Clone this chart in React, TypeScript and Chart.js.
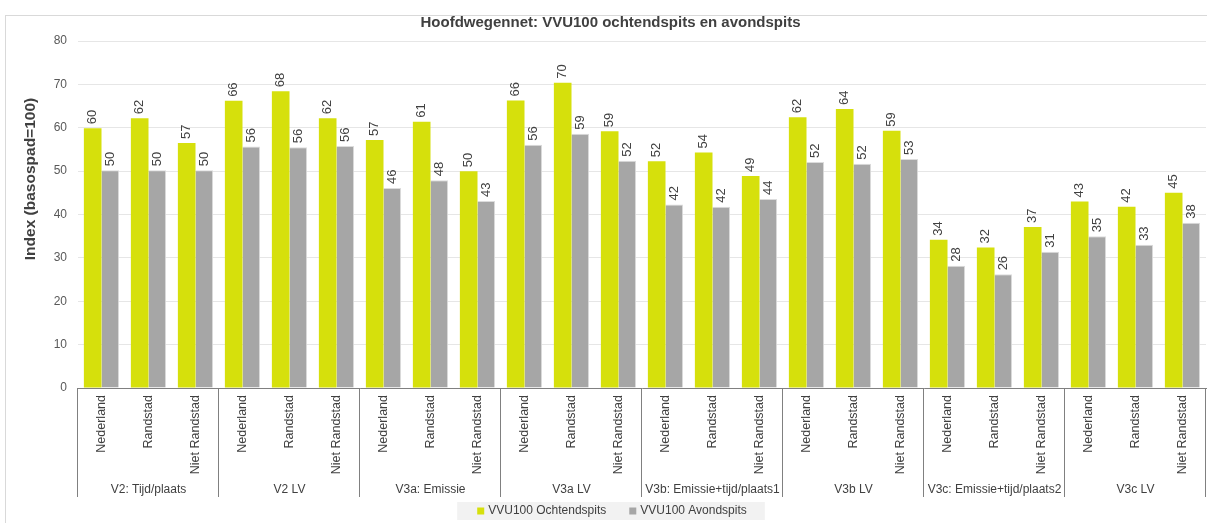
import React, { useEffect, useRef } from "react";
import { Chart, registerables } from "chart.js";

Chart.register(...registerables);

const FONT = "'Liberation Sans', Arial, sans-serif";

const TITLE = "Hoofdwegennet: VVU100 ochtendspits en avondspits";
const Y_TITLE = "Index (basospad=100)";

const GROUPS = [
  "V2: Tijd/plaats",
  "V2 LV",
  "V3a: Emissie",
  "V3a LV",
  "V3b: Emissie+tijd/plaats1",
  "V3b LV",
  "V3c: Emissie+tijd/plaats2",
  "V3c LV",
];
const REGIONS = ["Nederland", "Randstad", "Niet Randstad"];

const SERIES_NAMES = ["VVU100 Ochtendspits", "VVU100 Avondspits"];

const OCHTEND = [
  59.9, 62.2, 56.5,
  66.2, 68.4, 62.2,
  57.2, 61.4, 50.0,
  66.3, 70.4, 59.2,
  52.3, 54.3, 48.9,
  62.4, 64.3, 59.3,
  34.2, 32.4, 37.1,
  43.0, 41.8, 45.0,
];
const AVOND = [
  50.2, 50.2, 50.2,
  55.7, 55.5, 55.8,
  46.1, 47.9, 43.1,
  56.1, 58.6, 52.4,
  42.3, 41.8, 43.6,
  52.1, 51.7, 52.8,
  28.2, 26.2, 31.4,
  35.0, 33.0, 38.1,
];

const Y_MIN = 0;
const Y_MAX = 80;
const Y_STEP = 10;

const GREEN = "#d6e00c";
const GREY = "#a6a6a6";
const TEXT = "#404040";

const W = 1207;
const H = 523;

const decoPlugin = {
  id: "deco",
  beforeDraw(chart: any) {
    const ctx = chart.ctx;
    ctx.save();
    ctx.fillStyle = "#ffffff";
    ctx.fillRect(0, 0, chart.width, chart.height);
    ctx.strokeStyle = "#d9d9d9";
    ctx.lineWidth = 1;
    ctx.strokeRect(5.5, 15.5, chart.width + 20, chart.height + 20);
    ctx.restore();
  },
  afterDatasetsDraw(chart: any) {
    const ctx = chart.ctx;
    ctx.save();
    ctx.font = `13px ${FONT}`;
    ctx.fillStyle = TEXT;
    ctx.textAlign = "left";
    ctx.textBaseline = "middle";
    chart.data.datasets.forEach((ds: any, di: number) => {
      const meta = chart.getDatasetMeta(di);
      meta.data.forEach((bar: any, i: number) => {
        const v = ds.data[i];
        ctx.save();
        ctx.translate(bar.x, bar.y - 4);
        ctx.rotate(-Math.PI / 2);
        ctx.fillText(String(Math.round(v)), 0, 0);
        ctx.restore();
      });
    });
    ctx.restore();
  },
  afterDraw(chart: any) {
    const ctx = chart.ctx;
    const area = chart.chartArea;
    const xs = chart.scales.x;
    ctx.save();

    // category labels
    ctx.fillStyle = TEXT;
    ctx.font = `12.5px ${FONT}`;
    ctx.textAlign = "right";
    ctx.textBaseline = "middle";
    const n = chart.data.labels.length;
    for (let i = 0; i < n; i++) {
      const x = xs.getPixelForValue(i);
      ctx.save();
      ctx.translate(x, area.bottom + 7);
      ctx.rotate(-Math.PI / 2);
      ctx.fillText(REGIONS[i % REGIONS.length], 0, 0);
      ctx.restore();
    }

    // group separators and labels
    const gw = (area.right - area.left) / GROUPS.length;
    ctx.strokeStyle = "#808080";
    ctx.lineWidth = 1;
    for (let k = 0; k <= GROUPS.length; k++) {
      const x = Math.round(area.left + k * gw) - 0.5;
      ctx.beginPath();
      ctx.moveTo(x, area.bottom);
      ctx.lineTo(x, area.bottom + 109);
      ctx.stroke();
    }
    ctx.font = `12px ${FONT}`;
    ctx.textAlign = "center";
    GROUPS.forEach((g, k) => {
      ctx.fillText(g, area.left + (k + 0.5) * gw, area.bottom + 102);
    });

    // y title
    ctx.save();
    ctx.font = `bold 15.5px ${FONT}`;
    ctx.translate(31, 179);
    ctx.rotate(-Math.PI / 2);
    ctx.textAlign = "center";
    ctx.textBaseline = "middle";
    ctx.fillText(Y_TITLE, 0, 0);
    ctx.restore();

    // legend
    ctx.font = `12px ${FONT}`;
    const box = 7;
    const gapText = 4;
    const gapItem = 23;
    const items = chart.data.datasets.map((ds: any) => ({
      label: ds.label,
      color: ds.backgroundColor,
      w: box + gapText + ctx.measureText(ds.label).width,
    }));
    const total = items.reduce((s: number, it: any) => s + it.w, 0) + gapItem * (items.length - 1);
    let lx = 612 - total / 2;
    const ly = 511;
    ctx.fillStyle = "#f2f2f2";
    ctx.fillRect(lx - 20, 502, total + 38, 18);
    items.forEach((it: any) => {
      ctx.fillStyle = it.color;
      ctx.fillRect(lx, ly - 3.5, box, box);
      ctx.fillStyle = TEXT;
      ctx.textAlign = "left";
      ctx.textBaseline = "middle";
      ctx.fillText(it.label, lx + box + gapText, ly);
      lx += it.w + gapItem;
    });

    ctx.restore();
  },
};

export default function App() {
  const ref = useRef<HTMLCanvasElement>(null);

  useEffect(() => {
    const canvas = ref.current;
    if (!canvas) return;
    const labels = GROUPS.flatMap((g) => REGIONS.map((r) => [r, g]));
    const chart = new Chart(canvas, {
      type: "bar",
      data: {
        labels,
        datasets: [
          {
            label: SERIES_NAMES[0],
            data: OCHTEND,
            backgroundColor: GREEN,
            borderWidth: 0,
            categoryPercentage: 0.75,
            barPercentage: 1,
          },
          {
            label: SERIES_NAMES[1],
            data: AVOND,
            backgroundColor: GREY,
            borderColor: "#dcdcdc",
            borderWidth: { top: 1, right: 1, left: 0, bottom: 0 },
            categoryPercentage: 0.75,
            barPercentage: 1,
          },
        ],
      },
      options: {
        responsive: false,
        animation: false,
        layout: { padding: { left: 15, right: 1, top: 0, bottom: 0 } },
        plugins: {
          legend: { display: false },
          tooltip: { enabled: false },
          title: {
            display: true,
            text: TITLE,
            color: TEXT,
            font: { family: FONT, size: 15, weight: "bold" },
            padding: { top: 14, bottom: 9 },
          },
        },
        scales: {
          x: {
            grid: { display: false },
            border: { display: true, color: "#808080", width: 1 },
            ticks: { display: false },
            afterFit: (scale: any) => {
              scale.height = H - 388;
            },
          },
          y: {
            min: Y_MIN,
            max: Y_MAX,
            ticks: {
              stepSize: Y_STEP,
              color: "#595959",
              font: { family: FONT, size: 12 },
              padding: 11,
            },
            grid: { color: "#e6e6e6", drawTicks: false },
            border: { display: false },
            afterFit: (scale: any) => {
              scale.width = 78 - 15;
            },
          },
        },
      },
      plugins: [decoPlugin],
    });
    return () => chart.destroy();
  }, []);

  return (
    <div style={{ position: "fixed", left: 0, top: 0, width: W, height: H, background: "#fff" }}>
      <canvas ref={ref} width={W} height={H} style={{ width: W, height: H, display: "block" }} />
    </div>
  );
}
